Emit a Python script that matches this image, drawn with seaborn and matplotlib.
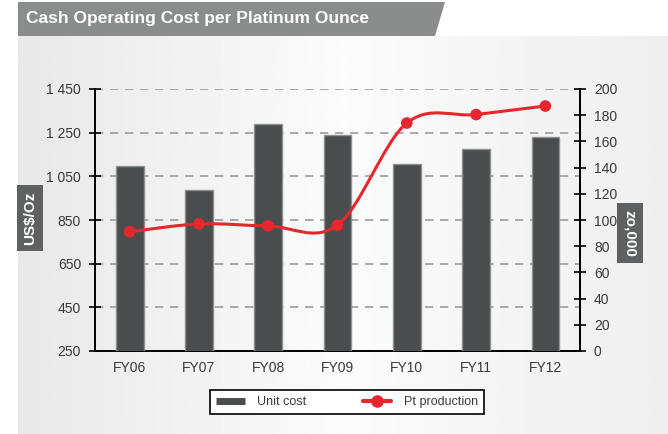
import numpy as np
import matplotlib
matplotlib.use("Agg")
import matplotlib.pyplot as plt
from matplotlib.path import Path
from matplotlib.patches import PathPatch, Polygon
from matplotlib.lines import Line2D
import seaborn as sns

years = ["FY06", "FY07", "FY08", "FY09", "FY10", "FY11", "FY12"]
unit_cost = [1097, 987, 1290, 1239, 1105, 1174, 1232]
pt_production = [91, 97, 95.5, 96, 174, 180.5, 187]
cost_ticks = [250, 450, 650, 850, 1050, 1250, 1450]
prod_ticks = list(range(0, 201, 20))

sns.set_style("white")
plt.rcParams["font.family"] = ["Liberation Sans", "DejaVu Sans"]

BAR = "#4a4d4e"
RED = "#e8262b"
TXT = "#3a3a3a"
W, H = 668, 434

fig = plt.figure(figsize=(W / 100, H / 100), dpi=100)
fig.patch.set_facecolor("white")

# soft grey panel behind the chart
bg = fig.add_axes([18 / W, 0, 1 - 18 / W, 1 - 36 / H])
stops = np.interp(np.linspace(0, 1, 300), [0, 0.5, 1], [0.91, 0.985, 0.935])
bg.imshow(np.tile(stops, (2, 1)), cmap="gray", vmin=0, vmax=1, aspect="auto",
          extent=[0, 1, 0, 1])
bg.set_axis_off()

# header band
fig.patches.append(Polygon([[18 / W, 1 - 2 / H], [445 / W, 1 - 2 / H],
                            [435 / W, 1 - 36 / H], [18 / W, 1 - 36 / H]],
                           closed=True, transform=fig.transFigure,
                           facecolor="#8b8d8d", edgecolor="none"))
fig.text(26 / W, 1 - 19 / H, "Cash Operating Cost per Platinum Ounce",
         color="white", fontsize=12.5, fontweight="bold", va="center", ha="left")

ax = fig.add_axes([95 / W, 83 / H, 485 / W, 262 / H])
ax.set_facecolor("none")
sns.barplot(x=years, y=unit_cost, ax=ax, color=BAR, width=0.4, saturation=1,
            edgecolor="#8e9090", linewidth=1, zorder=3)
ax.set_xlim(-0.5, 6.5)
ax.set_ylim(250, 1450)
ax.set_yticks(cost_ticks)
ax.set_yticklabels([f"{v:,}".replace(",", " ") for v in cost_ticks])
ax.yaxis.grid(True, linestyle=(0, (5, 4)), color="#9c9c9c", linewidth=1.2)
ax.set_axisbelow(True)
ax.set_xlabel("")
ax.set_ylabel("")
ax.tick_params(axis="y", direction="inout", length=8, width=1.2, color="black",
               labelsize=10, labelcolor=TXT, pad=6)
ax.set_xticks(np.arange(-0.5, 7, 1), minor=True)
ax.tick_params(axis="x", which="major", length=0, labelsize=10, labelcolor=TXT, pad=7)
ax.tick_params(axis="x", which="minor", direction="inout", length=6, width=1.2)
for s in ["left", "bottom", "right"]:
    ax.spines[s].set_color("black")
    ax.spines[s].set_linewidth(1.4)
ax.spines["top"].set_visible(False)

ax2 = ax.twinx()
ax2.set_ylim(0, 200)
ax2.set_yticks(prod_ticks)
ax2.tick_params(axis="y", direction="inout", length=8, width=1.2, color="black",
                labelsize=10, labelcolor=TXT, pad=6)
for s in ["left", "bottom", "top"]:
    ax2.spines[s].set_visible(False)
ax2.spines["right"].set_color("black")
ax2.spines["right"].set_linewidth(1.4)

# smoothed production line (Catmull-Rom as Bezier segments)
px = np.arange(len(years), dtype=float)
py = np.array(pt_production, dtype=float)
pts = np.column_stack([px, py])
verts = [pts[0]]
codes = [Path.MOVETO]
for i in range(len(pts) - 1):
    p0 = pts[max(i - 1, 0)]
    p1, p2 = pts[i], pts[i + 1]
    p3 = pts[min(i + 2, len(pts) - 1)]
    verts += [p1 + (p2 - p0) / 6, p2 - (p3 - p1) / 6, p2]
    codes += [Path.CURVE4] * 3
ax2.add_patch(PathPatch(Path(verts, codes), facecolor="none", edgecolor=RED,
                        linewidth=2.2, zorder=4))
sns.scatterplot(x=px, y=py, ax=ax2, color=RED, s=70, edgecolor="none", zorder=5)

# axis title boxes
box = dict(boxstyle="square,pad=0.4", facecolor="#5e6061", edgecolor="none")
fig.text(30 / W, 1 - 218 / H, "US$/Oz", rotation=90, color="white", fontsize=11,
         fontweight="bold", ha="center", va="center", bbox=box)
fig.text(630 / W, 1 - 233 / H, "zo,000", rotation=-90, color="white", fontsize=11,
         fontweight="bold", ha="center", va="center", bbox=box)

handles = [Line2D([], [], color=BAR, linewidth=5, solid_capstyle="butt"),
           Line2D([], [], color=RED, linewidth=3, marker="o", markersize=8)]
leg = fig.legend(handles, ["Unit cost", "Pt production"], loc="center",
                 bbox_to_anchor=(347 / W, 1 - 402 / H), ncol=2, frameon=True,
                 fancybox=False, edgecolor="black", framealpha=1,
                 columnspacing=4.5, handlelength=2.3, handletextpad=1.0,
                 fontsize=9, borderpad=0.5, borderaxespad=0)
leg.get_frame().set_linewidth(1.2)
for t in leg.get_texts():
    t.set_color(TXT)

fig.savefig("out.png", dpi=100)
